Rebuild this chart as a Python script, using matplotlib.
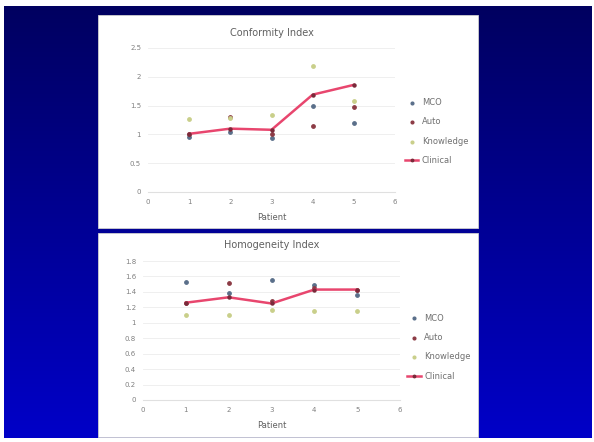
import numpy as np
from matplotlib import pyplot as plt
from matplotlib.patches import Rectangle
from matplotlib.colors import LinearSegmentedColormap

# patient numbers
patients = [1, 2, 3, 4, 5]

# Conformity index
ci_mco = [0.95, 1.05, 0.93, 1.50, 1.20]
ci_auto = [1.00, 1.31, 1.00, 1.15, 1.48]
ci_know = [1.27, 1.28, 1.34, 2.18, 1.58]
ci_clin = [1.01, 1.10, 1.08, 1.69, 1.86]

# Homogeneity index
hi_mco = [1.53, 1.38, 1.55, 1.49, 1.36]
hi_auto = [1.26, 1.51, 1.28, 1.45, 1.42]
hi_know = [1.10, 1.10, 1.17, 1.15, 1.15]
hi_clin = [1.26, 1.33, 1.25, 1.43, 1.43]

series_names = ["MCO", "Auto", "Knowledge", "Clinical"]
c_mco = "#5a6f8a"
c_auto = "#8c3b45"
c_know = "#c9cf8a"
c_clin = "#e8466e"

W, H = 594, 442
fig = plt.figure(figsize=(W / 100, H / 100), dpi=100)
fig.patch.set_facecolor("white")

# slide background, dark navy to blue
bg = fig.add_axes([4 / W, 1 - 438 / H, 588 / W, 432 / H])
grad = np.linspace(0, 1, 256).reshape(-1, 1)
cmap = LinearSegmentedColormap.from_list("slide", ["#000060", "#0000c8"])
bg.imshow(grad, aspect="auto", cmap=cmap, extent=[0, 1, 0, 1], origin="upper")
bg.axis("off")

# white panels
for (x0, y0, x1, y1) in [(98, 15, 478, 228), (98, 233, 478, 437)]:
    fig.patches.append(Rectangle((x0 / W, 1 - y1 / H), (x1 - x0) / W, (y1 - y0) / H,
                                 transform=fig.transFigure, facecolor="white",
                                 edgecolor="#d0d0d0", linewidth=0.6, zorder=1))

def draw(ax, mco, auto, know, clin, ymax, ystep, title, leg_x, leg_y):
    ax.set_facecolor("none")
    ax.scatter(patients, mco, s=6, color=c_mco, label=series_names[0], zorder=3)
    ax.scatter(patients, auto, s=6, color=c_auto, label=series_names[1], zorder=3)
    ax.scatter(patients, know, s=6, color=c_know, label=series_names[2], zorder=3)
    ax.plot(patients, clin, color=c_clin, lw=1.8, marker="o", ms=2.2,
            mfc="#7a2a3a", mec="#7a2a3a", label=series_names[3], zorder=4)
    ax.set_xlim(0, 6)
    ax.set_ylim(0, ymax)
    ax.set_xticks(range(0, 7))
    ticks = np.arange(0, ymax + ystep / 2, ystep)
    ax.set_yticks(ticks)
    ax.set_yticklabels(["%g" % round(v, 1) for v in ticks])
    ax.grid(axis="y", color="#ececec", lw=0.6)
    ax.set_axisbelow(True)
    for s in ["top", "right", "left"]:
        ax.spines[s].set_visible(False)
    ax.spines["bottom"].set_color("#e0e0e0")
    ax.tick_params(length=0, labelsize=5, labelcolor="#808080", pad=5)
    ax.set_title(title, fontsize=7, color="#606060", pad=9)
    ax.set_xlabel("Patient", fontsize=6, color="#606060", labelpad=6)
    ax.legend(loc="center left", bbox_to_anchor=(leg_x, leg_y), frameon=False,
              fontsize=6, labelcolor="#707070", handlelength=1.6,
              handletextpad=0.4, markerscale=0.8, labelspacing=1.25)

ax1 = fig.add_axes([148 / W, 1 - 192 / H, 247 / W, 144 / H])
ax1.set_zorder(2)
draw(ax1, ci_mco, ci_auto, ci_know, ci_clin, 2.5, 0.5, "Conformity Index", 1.01, 0.42)

ax2 = fig.add_axes([143 / W, 1 - 400 / H, 257 / W, 139 / H])
ax2.set_zorder(2)
draw(ax2, hi_mco, hi_auto, hi_know, hi_clin, 1.8, 0.2, "Homogeneity Index", 1.0, 0.38)

fig.savefig("out.png", dpi=100)
